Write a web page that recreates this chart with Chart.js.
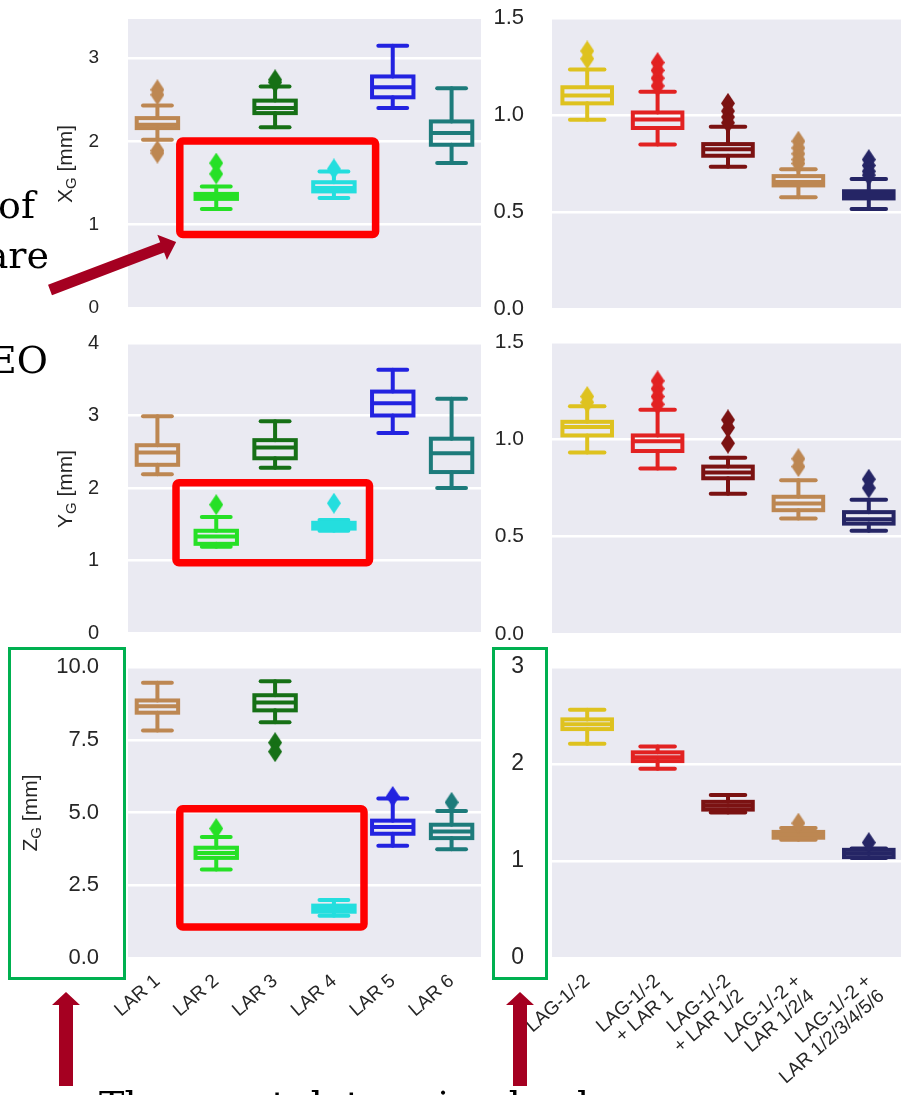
<!DOCTYPE html>
<html>
<head>
<meta charset="utf-8">
<script src="https://cdn.jsdelivr.net/npm/chart.js@4.4.1/dist/chart.umd.min.js"></script>
<style>
  html, body { margin: 0; padding: 0; background: #ffffff; width: 901px; height: 1095px; overflow: hidden; position: relative; }
  canvas { position: absolute; }
  svg { position: absolute; left: 0; top: 0; }
</style>
</head>
<body>
<canvas id="xgLar"></canvas>
<canvas id="xgLag"></canvas>
<canvas id="ygLar"></canvas>
<canvas id="ygLag"></canvas>
<canvas id="zgLar"></canvas>
<canvas id="zgLag"></canvas>

<svg width="901" height="1095" viewBox="0 0 901 1095">
  <!-- axis titles -->
  <g font-family="'Liberation Sans', Arial, sans-serif" font-size="21" fill="#262626" text-anchor="middle">
    <text transform="translate(71.5,164) rotate(-90)">X<tspan font-size="15" dy="4">G</tspan><tspan dy="-4"> [mm]</tspan></text>
    <text transform="translate(71.5,489) rotate(-90)">Y<tspan font-size="15" dy="4">G</tspan><tspan dy="-4"> [mm]</tspan></text>
    <text transform="translate(37,813) rotate(-90)">Z<tspan font-size="15" dy="4">G</tspan><tspan dy="-4"> [mm]</tspan></text>
  </g>
  <!-- highlight frames -->
  <g fill="none" stroke="#FF0000" stroke-width="7.5">
    <rect x="179.8" y="141" width="195.8" height="93.5" rx="3"/>
    <rect x="176" y="482.8" width="193.5" height="80" rx="3"/>
    <rect x="179.8" y="808.8" width="184.2" height="118.2" rx="3"/>
  </g>
  <g fill="none" stroke="#00B050" stroke-width="3">
    <rect x="9.5" y="648.5" width="115" height="330"/>
    <rect x="493.5" y="648.5" width="53" height="330"/>
  </g>
  <!-- arrows -->
  <g fill="#A50021">
    <polygon transform="translate(50,290) rotate(-20.85)" points="0,-5.5 120,-5.5 120,-13.5 135,0 120,13.5 120,5.5 0,5.5"/>
    <polygon points="59,1086 59,1005 52,1005 66,992 80,1005 73,1005 73,1086"/>
    <polygon points="513,1086 513,1005 506,1005 520,992 534,1005 527,1005 527,1086"/>
  </g>
  <!-- surrounding text -->
  <g font-family="'DejaVu Serif', serif" font-size="38" fill="#000000">
    <text x="35" y="218" text-anchor="end">of</text>
    <text x="49" y="268" text-anchor="end">are</text>
    <text x="48" y="373" text-anchor="end">EO</text>
    <text x="99" y="1118">The exact determined value</text>
  </g>
</svg>

<script>
// Categories and colours
const larLabels = ['LAR 1', 'LAR 2', 'LAR 3', 'LAR 4', 'LAR 5', 'LAR 6'];
const lagLabels = ['LAG-1/-2', ['LAG-1/-2', '+ LAR 1'], ['LAG-1/-2', '+ LAR 1/2'],
                   ['LAG-1/-2 +', 'LAR 1/2/4'], ['LAG-1/-2 +', 'LAR 1/2/3/4/5/6']];
const larColors = ['#BD8752', '#26E026', '#167016', '#24DEDE', '#2323E0', '#1D7B7B'];
const lagColors = ['#DEC21F', '#E22222', '#7B1212', '#BD8752', '#252565'];

// X_G per LAR
const xgLarLow    = [2.02, 1.19, 2.17, 1.32, 2.40, 1.74];
const xgLarQ1     = [2.16, 1.31, 2.34, 1.40, 2.53, 1.96];
const xgLarMedian = [2.20, 1.34, 2.40, 1.44, 2.65, 2.10];
const xgLarQ3     = [2.28, 1.37, 2.49, 1.51, 2.78, 2.24];
const xgLarHigh   = [2.43, 1.46, 2.66, 1.64, 3.15, 2.64];
const xgLarFliers = [[2.62, 2.56, 1.89, 1.86], [1.74, 1.61], [2.74, 2.71], [1.67], [], []];

// X_G per combination
const xgLagLow    = [0.975, 0.848, 0.733, 0.576, 0.516];
const xgLagQ1     = [1.06, 0.933, 0.79, 0.637, 0.57];
const xgLagMedian = [1.10, 0.977, 0.823, 0.655, 0.588];
const xgLagQ3     = [1.143, 1.013, 0.85, 0.685, 0.607];
const xgLagHigh   = [1.235, 1.12, 0.94, 0.72, 0.67];
const xgLagFliers = [[1.33, 1.29], [1.27, 1.23, 1.19, 1.15], [1.06, 1.02, 0.99, 0.96],
                     [0.865, 0.83, 0.80, 0.77, 0.75], [0.77, 0.74, 0.71, 0.69]];

// Y_G per LAR
const ygLarLow    = [2.19, 1.19, 2.28, 1.41, 2.76, 2.00];
const ygLarQ1     = [2.32, 1.23, 2.41, 1.44, 3.00, 2.22];
const ygLarMedian = [2.49, 1.33, 2.56, 1.48, 3.17, 2.48];
const ygLarQ3     = [2.59, 1.41, 2.66, 1.52, 3.33, 2.68];
const ygLarHigh   = [2.99, 1.60, 2.92, 1.56, 3.63, 3.23];
const ygLarFliers = [[], [1.77], [], [1.79], [], []];

// Y_G per combination
const ygLagLow    = [0.933, 0.85, 0.72, 0.593, 0.53];
const ygLagQ1     = [1.02, 0.94, 0.80, 0.636, 0.567];
const ygLagMedian = [1.063, 0.99, 0.83, 0.67, 0.59];
const ygLagQ3     = [1.09, 1.02, 0.86, 0.705, 0.626];
const ygLagHigh   = [1.17, 1.152, 0.906, 0.79, 0.69];
const ygLagFliers = [[1.22, 1.19], [1.30, 1.26, 1.22, 1.18], [1.10, 1.06, 0.98], [0.90, 0.86], [0.795, 0.75]];

// Z_G per LAR
const zgLarLow    = [7.82, 3.04, 8.10, 1.45, 3.86, 3.74];
const zgLarQ1     = [8.43, 3.44, 8.51, 1.59, 4.27, 4.12];
const zgLarMedian = [8.65, 3.61, 8.78, 1.70, 4.50, 4.35];
const zgLarQ3     = [8.85, 3.79, 9.03, 1.80, 4.72, 4.58];
const zgLarHigh   = [9.46, 4.16, 9.51, 1.99, 5.48, 5.05];
const zgLarFliers = [[], [4.45], [7.40, 7.09], [], [5.55], [5.35]];

// Z_G per combination
const zgLagLow    = [2.21, 1.95, 1.50, 1.22, 1.03];
const zgLagQ1     = [2.36, 2.03, 1.53, 1.24, 1.04];
const zgLagMedian = [2.41, 2.07, 1.57, 1.27, 1.08];
const zgLagQ3     = [2.46, 2.12, 1.61, 1.30, 1.115];
const zgLagHigh   = [2.56, 2.18, 1.68, 1.34, 1.13];
const zgLagFliers = [[], [], [], [1.39], [1.19]];

// Y-axis ticks
const xgLarTicks = [0, 1, 2, 3];           const xgLarTickLabels = ['0', '1', '2', '3'];
const xgLagTicks = [0, 0.5, 1, 1.5];       const xgLagTickLabels = ['0.0', '0.5', '1.0', '1.5'];
const ygLarTicks = [0, 1, 2, 3, 4];        const ygLarTickLabels = ['0', '1', '2', '3', '4'];
const ygLagTicks = [0, 0.5, 1, 1.5];       const ygLagTickLabels = ['0.0', '0.5', '1.0', '1.5'];
const zgLarTicks = [0, 2.5, 5, 7.5, 10];   const zgLarTickLabels = ['0.0', '2.5', '5.0', '7.5', '10.0'];
const zgLagTicks = [0, 1, 2, 3];           const zgLagTickLabels = ['0', '1', '2', '3'];

Chart.defaults.font.family = "'Liberation Sans', Arial, sans-serif";

// thin diamond flier marker
function diamond(color, w, h) {
  const c = document.createElement('canvas');
  c.width = w; c.height = h;
  const g = c.getContext('2d');
  g.fillStyle = color;
  g.beginPath();
  g.moveTo(w / 2, 0); g.lineTo(w, h / 2); g.lineTo(w / 2, h); g.lineTo(0, h / 2);
  g.closePath(); g.fill();
  return c;
}

function buildPanel(p) {
  const cv = document.getElementById(p.id);
  const [cx, cy, cw, ch] = p.frame;
  const [l, t, r, b] = p.area;
  cv.width = cw; cv.height = ch;
  Object.assign(cv.style, { left: cx + 'px', top: cy + 'px', width: cw + 'px', height: ch + 'px' });
  const n = p.labels.length;

  const boxes = {
    id: 'boxes_' + p.id,
    beforeDraw(chart) {
      const { ctx, chartArea: a } = chart;
      ctx.save();
      ctx.fillStyle = '#EAEAF2';
      ctx.fillRect(a.left, a.top, a.right - a.left, a.bottom - a.top);
      ctx.restore();
    },
    beforeDatasetsDraw(chart) {
      const { ctx, scales: { x, y } } = chart;
      const cat = x.getPixelForValue(1) - x.getPixelForValue(0);
      const hb = cat * 0.352, hc = cat * 0.245;
      const seg = (x1, y1, x2, y2) => { ctx.beginPath(); ctx.moveTo(x1, y1); ctx.lineTo(x2, y2); ctx.stroke(); };
      ctx.save();
      ctx.lineWidth = p.lineWidth;
      for (let i = 0; i < n; i++) {
        const xc = x.getPixelForValue(i);
        const lo = y.getPixelForValue(p.low[i]), q1 = y.getPixelForValue(p.q1[i]);
        const md = y.getPixelForValue(p.median[i]), q3 = y.getPixelForValue(p.q3[i]);
        const hi = y.getPixelForValue(p.high[i]);
        ctx.strokeStyle = p.colors[i];
        ctx.lineCap = 'round';
        seg(xc, q3, xc, hi);
        seg(xc, q1, xc, lo);
        seg(xc - hc, hi, xc + hc, hi);
        seg(xc - hc, lo, xc + hc, lo);
        ctx.lineCap = 'butt';
        ctx.lineJoin = 'miter';
        ctx.strokeRect(xc - hb, q3, 2 * hb, q1 - q3);
        seg(xc - hb, md, xc + hb, md);
      }
      ctx.restore();
    }
  };

  const datasets = p.fliers.map((vals, i) => ({
    data: vals.map(v => ({ x: i, y: v })),
    pointStyle: diamond(p.colors[i], 14, 21),
    pointRadius: 7,
    pointHoverRadius: 7,
    backgroundColor: p.colors[i],
    borderColor: p.colors[i]
  }));

  new Chart(cv, {
    type: 'scatter',
    data: { datasets },
    options: {
      responsive: false,
      animation: false,
      events: [],
      layout: { padding: { left: 0, top: t - cy, right: cx + cw - r, bottom: 0 } },
      plugins: { legend: { display: false }, tooltip: { enabled: false } },
      scales: {
        x: {
          type: 'linear',
          min: -0.5,
          max: n - 0.5,
          afterFit: s => { s.height = cy + ch - b; },
          afterBuildTicks: s => { s.ticks = p.labels.map((_, i) => ({ value: i })); },
          grid: { display: false },
          border: { display: false },
          ticks: {
            display: p.showX,
            autoSkip: false,
            minRotation: 41,
            maxRotation: 41,
            padding: 5,
            color: '#262626',
            font: { size: 19, lineHeight: 1.05 },
            callback: (v, i) => p.labels[i]
          }
        },
        y: {
          min: 0,
          max: p.yMax,
          afterFit: s => { s.width = l - cx; },
          afterBuildTicks: s => { s.ticks = p.ticks.map(v => ({ value: v })); },
          grid: { color: '#FFFFFF', lineWidth: 2.5, drawTicks: true, tickLength: p.tickPad, tickColor: 'rgba(0,0,0,0)' },
          border: { display: false },
          ticks: {
            padding: 0,
            color: '#262626',
            font: { size: p.tickSize },
            callback: (v, i) => p.tickLabels[i]
          }
        }
      }
    },
    plugins: [boxes]
  });
}

buildPanel({ id: 'xgLar', frame: [0, 0, 490, 330], area: [128, 19, 481, 308], yMax: 3.47,
  labels: larLabels, colors: larColors, low: xgLarLow, q1: xgLarQ1, median: xgLarMedian, q3: xgLarQ3,
  high: xgLarHigh, fliers: xgLarFliers, ticks: xgLarTicks, tickLabels: xgLarTickLabels,
  tickSize: 19, tickPad: 29, showX: false, lineWidth: 4 });
buildPanel({ id: 'xgLag', frame: [482, 0, 430, 330], area: [552, 18, 907, 309], yMax: 1.5,
  labels: lagLabels, colors: lagColors, low: xgLagLow, q1: xgLagQ1, median: xgLagMedian, q3: xgLagQ3,
  high: xgLagHigh, fliers: xgLagFliers, ticks: xgLagTicks, tickLabels: xgLagTickLabels,
  tickSize: 22, tickPad: 28, showX: false, lineWidth: 4 });
buildPanel({ id: 'ygLar', frame: [0, 320, 490, 332], area: [128, 343, 481, 633], yMax: 4,
  labels: larLabels, colors: larColors, low: ygLarLow, q1: ygLarQ1, median: ygLarMedian, q3: ygLarQ3,
  high: ygLarHigh, fliers: ygLarFliers, ticks: ygLarTicks, tickLabels: ygLarTickLabels,
  tickSize: 20, tickPad: 29, showX: false, lineWidth: 4 });
buildPanel({ id: 'ygLag', frame: [482, 320, 430, 332], area: [552, 342, 907, 634], yMax: 1.5,
  labels: lagLabels, colors: lagColors, low: ygLagLow, q1: ygLagQ1, median: ygLagMedian, q3: ygLagQ3,
  high: ygLagHigh, fliers: ygLagFliers, ticks: ygLagTicks, tickLabels: ygLagTickLabels,
  tickSize: 21, tickPad: 28, showX: false, lineWidth: 4 });
buildPanel({ id: 'zgLar', frame: [0, 645, 490, 450], area: [128, 667, 481, 958], yMax: 10,
  labels: larLabels, colors: larColors, low: zgLarLow, q1: zgLarQ1, median: zgLarMedian, q3: zgLarQ3,
  high: zgLarHigh, fliers: zgLarFliers, ticks: zgLarTicks, tickLabels: zgLarTickLabels,
  tickSize: 22, tickPad: 29, showX: true, lineWidth: 4 });
buildPanel({ id: 'zgLag', frame: [482, 645, 430, 450], area: [552, 667, 907, 958], yMax: 3,
  labels: lagLabels, colors: lagColors, low: zgLagLow, q1: zgLagQ1, median: zgLagMedian, q3: zgLagQ3,
  high: zgLagHigh, fliers: zgLagFliers, ticks: zgLagTicks, tickLabels: zgLagTickLabels,
  tickSize: 23, tickPad: 28, showX: true, lineWidth: 4 });
</script>
</body>
</html>
